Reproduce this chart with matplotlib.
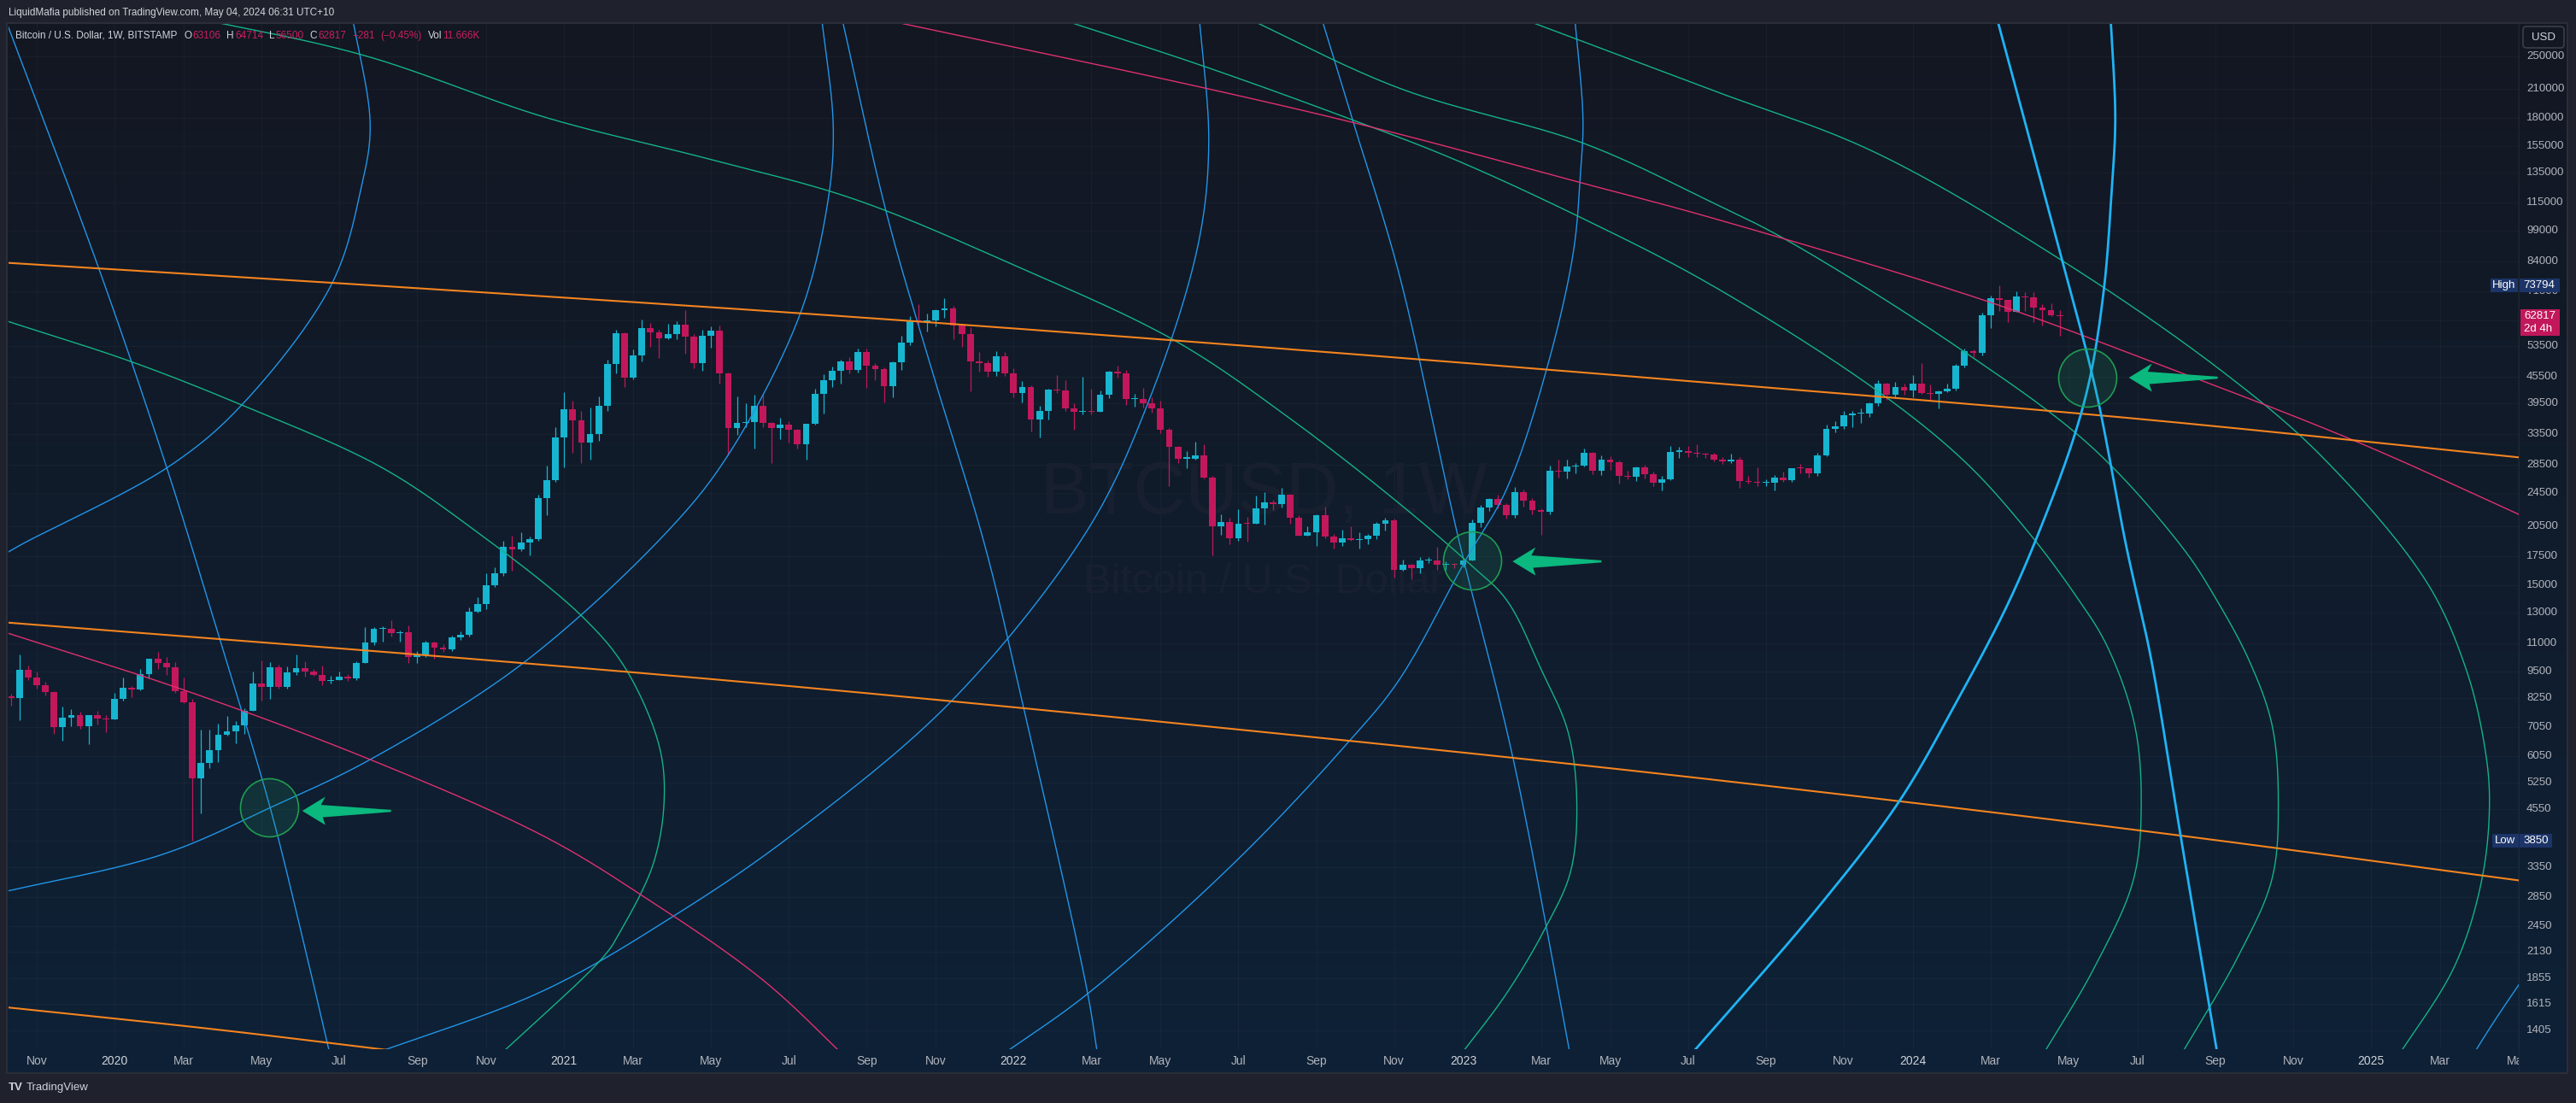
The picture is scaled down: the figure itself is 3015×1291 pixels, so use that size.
import numpy as np
import pandas as pd
import matplotlib
matplotlib.use('Agg')
from matplotlib import pyplot as plt
from matplotlib import dates as mdates
from matplotlib import transforms as mtransforms
from matplotlib.patches import Rectangle, Polygon, FancyBboxPatch
from matplotlib.ticker import NullLocator

plt.rcParams['font.family'] = ['Liberation Sans', 'DejaVu Sans']

# ---------------- weekly candles, BITSTAMP BTCUSD (open = previous close) ----------------
first_open = 8290
week_starts = ['2019-10-14', '2020-01-06', '2021-01-04', '2022-01-03', '2023-01-02', '2024-01-01']

close_2019 = [8220, 9550, 9200, 8800, 8500, 7050, 7420, 7520, 7080, 7510, 7380, 7350]
high_2019 = [8420, 10370, 9800, 9500, 8980, 8520, 7860, 7750, 7650, 7520, 7700, 7530]
low_2019 = [7900, 7300, 9050, 8650, 8350, 6790, 6550, 7080, 7000, 6430, 7150, 6850]

close_2020 = [8180, 8700, 8600, 9330, 10150, 9900, 9700, 8550, 8050, 5360,
              5830, 6250, 6780, 6900, 7120, 7700, 8900, 8720, 9680, 8720,
              9450, 9660, 9470, 9300, 9000, 9070, 9230, 9150, 9930, 11050,
              11900, 11900, 11650, 11680, 10250, 10320, 11080, 10770, 10670, 11380,
              11500, 13030, 13560, 15000, 15960, 18400, 18180, 18800, 19170, 23850,
              26270, 33000]
high_2020 = [8450, 9190, 8780, 9600, 10160, 10500, 10250, 9970, 9180, 8180,
             6950, 6950, 7200, 7470, 7290, 7800, 9480, 10070, 9950, 9850,
             9740, 10380, 9990, 9600, 9790, 9250, 9470, 9350, 9990, 12000,
             12000, 12080, 12470, 11800, 12090, 10580, 11180, 11100, 10960, 11480,
             11740, 13350, 14100, 15970, 16480, 19000, 19500, 19920, 19400, 24300,
             28400, 34800]
low_2020 = [7350, 8120, 8260, 8570, 9150, 9600, 9300, 8450, 8000, 3850,
            4450, 5670, 5860, 6750, 6470, 6800, 7680, 8110, 8200, 8650,
            8640, 9300, 9220, 9260, 8830, 8900, 9050, 9000, 9050, 9920,
            10920, 11120, 11430, 11100, 9900, 9900, 10250, 10150, 10500, 10580,
            11200, 11400, 12950, 13200, 14850, 15800, 16200, 18000, 17600, 19000,
            21800, 26000]

close_2021 = [38200, 36000, 32100, 33500, 38900, 48600, 57400, 45200, 51000, 59000,
              57500, 55800, 57000, 60000, 56200, 49000, 56600, 58200, 46400, 34700,
              35600, 35800, 39000, 35500, 34700, 35300, 34250, 31800, 35400, 41500,
              44600, 47000, 49300, 47100, 51800, 48200, 47300, 43200, 49200, 54600,
              61500, 60900, 61300, 64900, 65500, 59700, 57200, 49400, 48900, 46700,
              50800, 46400]
high_2021 = [41950, 40100, 37850, 38600, 40900, 49700, 58350, 57500, 52600, 61800,
             60600, 58500, 60200, 61200, 64900, 57000, 58450, 59500, 59600, 46600,
             40900, 39500, 41300, 41300, 35700, 36600, 35900, 34500, 35400, 42600,
             46000, 48100, 49900, 50500, 52900, 52900, 48900, 47900, 49300, 56500,
             62900, 67000, 63700, 65000, 69000, 66400, 59800, 59100, 51900, 49500,
             52100, 52000]
low_2021 = [28100, 30400, 28800, 29300, 32300, 37900, 46300, 43000, 44950, 49300,
            53300, 50300, 55500, 55500, 51300, 47500, 47000, 53000, 43800, 30000,
            33400, 34800, 31000, 34800, 28800, 32700, 32100, 31000, 29300, 35200,
            37400, 43000, 43900, 46300, 46500, 42800, 44700, 39600, 40700, 47100,
            53900, 59600, 57800, 59400, 62300, 55600, 53300, 42000, 46800, 45500,
            45600, 45700]

close_2022 = [41800, 43100, 36300, 37900, 42400, 42200, 38400, 37700, 38000, 37800,
              41300, 46800, 46400, 40400, 40400, 39500, 38500, 34300, 31300, 29450,
              29450, 29900, 26600, 20550, 21000, 19300, 20850, 20800, 22600, 23300,
              23150, 24300, 21500, 19550, 19850, 21800, 19400, 18800, 19300, 19050,
              19200, 19550, 20800, 21150, 16300, 16700, 16450, 17100, 17100, 16750,
              16840, 16700]
high_2022 = [47500, 44500, 43500, 38900, 42600, 45800, 44700, 39500, 45400, 42600,
             42300, 46900, 48200, 47200, 41600, 42900, 40800, 40000, 34700, 31400,
             30600, 32200, 31700, 26900, 21900, 21500, 22500, 21600, 24200, 24600,
             23600, 25200, 24400, 21800, 20500, 21850, 22800, 19700, 20200, 20500,
             19900, 19700, 21000, 21500, 21400, 17200, 16800, 17400, 17400, 18400,
             17000, 16900]
low_2022 = [40700, 39700, 34000, 32900, 36300, 41700, 38000, 34300, 37200, 37200,
            38100, 40500, 45200, 39200, 38700, 38600, 37600, 33700, 25400, 28700,
            28000, 29300, 26500, 17600, 19600, 18700, 19000, 18900, 20800, 20700,
            22400, 22700, 20800, 19500, 19500, 18500, 19300, 18200, 18500, 19000,
            18200, 18700, 19200, 20100, 15600, 16200, 15500, 16000, 16900, 16300,
            16300, 16400]

close_2023 = [17150, 20880, 22700, 23750, 22950, 21800, 24650, 23550, 22400, 22150,
              27600, 27500, 28200, 28350, 30300, 27600, 29250, 28850, 26800, 26750,
              28100, 27100, 25900, 26350, 30550, 30600, 30300, 30250, 30050, 29300,
              29050, 29300, 26100, 26000, 25850, 25850, 26550, 26250, 27950, 27900,
              27150, 29950, 34500, 35000, 37050, 37350, 37450, 39450, 43800, 41300,
              43000, 42250]
high_2023 = [17200, 21300, 23000, 23800, 24250, 23200, 25250, 25000, 23900, 22600,
             28400, 29200, 29200, 28800, 31000, 30500, 30000, 29800, 29100, 27600,
             28200, 28450, 27400, 26800, 31400, 31300, 31500, 31800, 30350, 30300,
             29700, 30200, 29600, 26800, 28100, 26400, 27000, 27450, 28000, 28600,
             28000, 30400, 35200, 35900, 38000, 37900, 38400, 39600, 44700, 44000,
             44300, 43800]
low_2023 = [16500, 17100, 20400, 22300, 22600, 21400, 21500, 22800, 21900, 19600,
            21900, 26600, 26500, 27200, 28200, 27100, 26950, 27700, 25800, 26300,
            26100, 26500, 25400, 24800, 26200, 29500, 29700, 29700, 29500, 29000,
            28600, 28800, 25200, 25800, 25400, 25400, 24900, 26000, 26000, 27200,
            26600, 26900, 29800, 33900, 34500, 34800, 35600, 36700, 39000, 40200,
            40500, 41300]

close_2024 = [43900, 41700, 41550, 42050, 42600, 48300, 52150, 51700, 63100, 68950,
              68400, 64300, 69600, 69300, 65600, 64950, 63106, 62817]
high_2024 = [45900, 49000, 43600, 42200, 43900, 48600, 52800, 52600, 64000, 70100,
             73794, 68500, 71700, 71200, 71300, 66800, 67200, 64714]
low_2024 = [40800, 41500, 40300, 38500, 41900, 42300, 47700, 50500, 50900, 59000,
            64600, 60800, 64200, 64500, 60700, 59600, 62700, 56500]

closes = [close_2019, close_2020, close_2021, close_2022, close_2023, close_2024]
highs = [high_2019, high_2020, high_2021, high_2022, high_2023, high_2024]
lows = [low_2019, low_2020, low_2021, low_2022, low_2023, low_2024]

# ---------------- drawings (date, price) ----------------
arc_b1 = [('2019-10-09', 308200), ('2019-12-24', 81350), ('2020-02-17', 28210), ('2020-03-31', 11315),
          ('2020-05-11', 4600), ('2020-06-05', 2380), ('2020-07-01', 1150)]
arc_b2 = [('2020-07-16', 315300), ('2020-07-31', 173800), ('2020-07-24', 125300), ('2020-06-30', 74640),
          ('2020-04-18', 39140), ('2020-02-19', 28210), ('2019-10-23', 18660), ('2019-10-05', 17430)]
arc_b3 = [('2019-10-05', 2920), ('2020-02-14', 3584), ('2020-05-13', 4622), ('2020-07-31', 5935),
          ('2020-12-01', 9873), ('2021-03-30', 20160), ('2021-05-18', 30350), ('2021-07-14', 63360),
          ('2021-08-05', 112800), ('2021-08-10', 170700), ('2021-07-31', 315300)]
arc_b4 = [('2020-07-21', 1203), ('2020-12-19', 1739), ('2021-04-04', 2595), ('2021-07-06', 3943),
          ('2021-11-14', 8120), ('2022-03-04', 20160), ('2022-04-22', 39680), ('2022-06-01', 90750),
          ('2022-06-10', 155800), ('2022-06-02', 315300)]
arc_b5 = [('2021-08-16', 315300), ('2021-09-22', 108800), ('2021-10-25', 51180), ('2021-12-11', 18400),
          ('2022-01-11', 7830), ('2022-03-04', 1708), ('2022-03-13', 1177)]
arc_b6 = [('2022-09-08', 315300), ('2022-10-05', 176200), ('2022-11-11', 78800), ('2022-12-29', 19350),
          ('2023-02-11', 6044), ('2023-03-31', 1177)]
arc_b7 = [('2023-04-02', 315300), ('2023-04-09', 179400), ('2023-04-07', 134750), ('2023-04-01', 87500),
          ('2023-03-10', 46720), ('2023-02-06', 24960), ('2023-01-05', 17350), ('2022-11-11', 9055),
          ('2022-10-02', 6557), ('2022-07-02', 3455), ('2022-03-04', 1708), ('2021-12-19', 1203)]
arc_b8 = [('2024-03-08', 315300), ('2024-05-01', 84360), ('2024-05-28', 42670), ('2024-06-22', 18400),
          ('2024-07-12', 10146), ('2024-08-05', 3943), ('2024-09-05', 1177)]
arc_b9 = [('2023-06-29', 1177), ('2023-10-17', 2716), ('2023-12-21', 4750), ('2024-02-06', 8120),
          ('2024-03-17', 13390), ('2024-04-13', 20160), ('2024-05-10', 32630), ('2024-05-24', 45880),
          ('2024-06-04', 73290), ('2024-06-10', 121370), ('2024-06-13', 179400), ('2024-06-09', 315300)]
arc_b10 = [('2025-03-23', 1150), ('2025-04-16', 1477), ('2025-05-14', 1940)]

arc_g1 = [('2020-02-20', 315300), ('2020-07-24', 252300), ('2020-12-19', 181100), ('2021-05-01', 144900),
          ('2021-08-27', 117000), ('2022-01-06', 81720), ('2022-05-14', 55040), ('2022-08-15', 36390),
          ('2022-11-11', 23210), ('2023-01-08', 16730), ('2023-02-06', 13890), ('2023-03-06', 9608),
          ('2023-03-28', 6863), ('2023-04-04', 4750), ('2023-03-30', 3272), ('2023-03-10', 2435),
          ('2023-02-06', 1708), ('2022-12-28', 1203)]
arc_g2 = [('2019-10-05', 61930), ('2020-01-19', 49350), ('2020-04-18', 39140), ('2020-08-08', 28210),
          ('2020-10-23', 20160), ('2021-01-19', 12680), ('2021-02-23', 9608), ('2021-03-22', 6381),
          ('2021-03-26', 4750), ('2021-03-17', 3393), ('2021-02-19', 2391), ('2021-02-06', 2096),
          ('2020-11-09', 1203)]
arc_g3 = [('2022-01-25', 315300), ('2022-06-05', 237800), ('2022-10-02', 179400), ('2022-12-25', 144900),
          ('2023-04-05', 106860), ('2023-07-20', 74640), ('2023-12-01', 42670), ('2024-02-12', 28990),
          ('2024-04-02', 20160), ('2024-05-10', 14470), ('2024-06-06', 10910), ('2024-06-28', 7283),
          ('2024-07-04', 4926), ('2024-06-28', 3155), ('2024-05-28', 1985), ('2024-04-11', 1177)]
arc_g4 = [('2022-07-02', 315300), ('2022-11-11', 211300), ('2023-04-10', 157300), ('2023-07-20', 115950),
          ('2023-09-21', 94090), ('2024-02-11', 52120), ('2024-05-24', 31470), ('2024-08-06', 18400),
          ('2024-09-03', 13890), ('2024-09-30', 9963), ('2024-10-18', 7117), ('2024-10-23', 4750),
          ('2024-10-18', 3155), ('2024-09-21', 2096), ('2024-08-01', 1177)]
arc_g5 = [('2023-02-06', 315300), ('2023-07-20', 210300), ('2023-12-01', 150300), ('2024-05-01', 84360),
          ('2024-09-08', 46720), ('2024-11-27', 29800), ('2025-02-20', 15280),
          ('2025-03-24', 9608), ('2025-04-08', 6381), ('2025-04-12', 4750), ('2025-04-06', 3155),
          ('2025-03-15', 1985), ('2025-01-24', 1177)]

arc_p1 = [('2019-10-05', 11790), ('2020-03-03', 8577), ('2020-07-31', 5935), ('2020-12-19', 3943),
          ('2021-03-09', 2869), ('2021-06-14', 1837), ('2021-08-29', 1150)]
arc_p2 = [('2021-08-25', 315300), ('2022-06-10', 210300), ('2022-10-29', 169100), ('2023-04-05', 128200),
          ('2023-07-20', 106370), ('2024-02-29', 68150), ('2024-07-12', 49350), ('2024-12-24', 32330),
          ('2025-05-24', 20710)]

line_o1 = [('2019-10-05', 83600), ('2020-09-15', 72620), ('2021-08-27', 62500), ('2022-08-08', 52830),
           ('2023-07-20', 44050), ('2024-06-30', 36390), ('2025-05-24', 29260)]
line_o2 = [('2019-10-05', 12340), ('2020-12-01', 9918), ('2021-08-27', 8500), ('2022-10-02', 6557),
           ('2023-07-20', 5346), ('2024-07-03', 4070), ('2025-05-24', 3071)]
line_o3 = [('2019-10-05', 1595), ('2020-03-29', 1411), ('2020-09-01', 1248)]

ring_dates = ['2020-05-10', '2023-01-09', '2024-05-21']
ring_prices = [4600, 17110, 45260]
arrow_dates = ['2020-06-06', '2023-02-11', '2024-06-24']
arrow_prices = [4517, 17030, 45260]

# ---------------- axis labels ----------------
price_ticks = [250000, 210000, 180000, 155000, 135000, 115000, 99000, 84000, 71500, 61500,
               53500, 45500, 39500, 33500, 28500, 24500, 20500, 17500, 15000, 13000,
               11000, 9500, 8250, 7050, 6050, 5250, 4550, 3850, 3350, 2850,
               2450, 2130, 1855, 1615, 1405]
time_months = ['2019-11', '2020-01', '2020-03', '2020-05', '2020-07', '2020-09', '2020-11',
               '2021-01', '2021-03', '2021-05', '2021-07', '2021-09', '2021-11',
               '2022-01', '2022-03', '2022-05', '2022-07', '2022-09', '2022-11',
               '2023-01', '2023-03', '2023-05', '2023-07', '2023-09', '2023-11',
               '2024-01', '2024-03', '2024-05', '2024-07', '2024-09', '2024-11',
               '2025-01', '2025-03', '2025-05']
time_labels = ['Nov', '2020', 'Mar', 'May', 'Jul', 'Sep', 'Nov',
               '2021', 'Mar', 'May', 'Jul', 'Sep', 'Nov',
               '2022', 'Mar', 'May', 'Jul', 'Sep', 'Nov',
               '2023', 'Mar', 'May', 'Jul', 'Sep', 'Nov',
               '2024', 'Mar', 'May', 'Jul', 'Sep', 'Nov',
               '2025', 'Mar', 'May']

# ---------------- build candles ----------------
dates, o, h, l, c = [], [], [], [], []
prev = first_open
for start, cl, hi, lo in zip(week_starts, closes, highs, lows):
    d = pd.date_range(start, periods=len(cl), freq='7D')
    for k in range(len(cl)):
        dates.append(d[k])
        o.append(prev)
        c.append(cl[k])
        h.append(max(hi[k], prev, cl[k]))
        l.append(min(lo[k], prev, cl[k]))
        prev = cl[k]
xd = mdates.date2num(dates)
o = np.array(o, float); c = np.array(c, float); h = np.array(h, float); l = np.array(l, float)

UP = '#17b5cf'
DOWN = '#c2185b'
cols = [UP if cc >= oo else DOWN for oo, cc in zip(o, c)]

W, H = 3015, 1291
fig = plt.figure(figsize=(W / 100, H / 100), dpi=100)
fig.patch.set_facecolor('#1f222c')
renderer = fig.canvas.get_renderer()


def fr(x0, y0, x1, y1):
    return [x0 / W, 1 - y1 / H, (x1 - x0) / W, (y1 - y0) / H]


# gradient pane
bg = fig.add_axes(fr(8, 27, 3005, 1256))
bg.axis('off')
top = np.array([19, 23, 34]) / 255
bot = np.array([14, 33, 54]) / 255
g = np.linspace(0, 1, 256)[:, None, None]
bg.imshow(top + (bot - top) * g, aspect='auto', extent=[0, 1, 0, 1], origin='upper')
bg.set_xlim(0, 1); bg.set_ylim(0, 1)

ax = fig.add_axes(fr(10, 27, 2948, 1228))
ax.patch.set_alpha(0)
for s in ax.spines.values():
    s.set_visible(False)
ax.set_yscale('log')
t0 = mdates.date2num(pd.Timestamp('2020-01-06'))
ax.set_xlim(t0 - 85.8, t0 + 1946.7)
ax.set_ylim(1271.4, 298540)
ax.xaxis.set_major_locator(NullLocator())
ax.yaxis.set_major_locator(NullLocator())
ax.yaxis.set_minor_locator(NullLocator())
ax.tick_params(length=0)

# grid
tick_dates = []
for m in time_months:
    d = pd.Timestamp(m + '-01')
    d = d + pd.Timedelta(days=(7 - d.weekday()) % 7)
    tick_dates.append(mdates.date2num(d))
for td in tick_dates:
    ax.axvline(td, color=(1, 1, 1, 0.03), lw=0.8, zorder=1)
for p in price_ticks:
    ax.axhline(p, color=(1, 1, 1, 0.03), lw=0.8, zorder=1)

# watermark
ax.text(0.5, 0.54, 'BTCUSD, 1W', transform=ax.transAxes, ha='center', va='center',
        fontsize=61, color='#182030', zorder=1)
ax.text(0.5, 0.455, 'Bitcoin / U.S. Dollar', transform=ax.transAxes, ha='center', va='center',
        fontsize=35, color='#182030', zorder=1)

# candles
ax.vlines(xd, l, h, colors=cols, lw=0.9, zorder=3)
bottom = np.minimum(o, c)
height = np.maximum(np.abs(c - o), bottom * 0.005)
ax.bar(xd, height, bottom=bottom, width=5.4, color=cols, lw=0, zorder=3)


# drawings: smooth curve through the read points (centripetal Catmull-Rom in screen space)
def catmull(P, n=50):
    P = np.asarray(P, float)
    P = np.vstack([2 * P[0] - P[1], P, 2 * P[-1] - P[-2]])
    out = []
    for i in range(len(P) - 3):
        p0, p1, p2, p3 = P[i], P[i + 1], P[i + 2], P[i + 3]
        t1 = np.hypot(*(p1 - p0)) ** 0.5 + 1e-6
        t2 = t1 + np.hypot(*(p2 - p1)) ** 0.5 + 1e-6
        t3 = t2 + np.hypot(*(p3 - p2)) ** 0.5 + 1e-6
        t = np.linspace(t1, t2, n)[:, None]
        a1 = (t1 - t) / t1 * p0 + t / t1 * p1
        a2 = (t2 - t) / (t2 - t1) * p1 + (t - t1) / (t2 - t1) * p2
        a3 = (t3 - t) / (t3 - t2) * p2 + (t - t2) / (t3 - t2) * p3
        b1 = (t2 - t) / t2 * a1 + t / t2 * a2
        b2 = (t3 - t) / (t3 - t1) * a2 + (t - t1) / (t3 - t1) * a3
        out.append((t2 - t) / (t2 - t1) * b1 + (t - t1) / (t2 - t1) * b2)
    return np.vstack(out)


def draw_curve(pts, color, lw, z=5):
    xs = mdates.date2num(pd.to_datetime([d for d, _ in pts]))
    ys = np.array([p for _, p in pts], float)
    disp = ax.transData.transform(np.column_stack([xs, ys]))
    sm = ax.transData.inverted().transform(catmull(disp))
    ax.plot(sm[:, 0], sm[:, 1], color=color, lw=lw, zorder=z, solid_capstyle='round')


BLUE = '#2196e8'
BLUE2 = '#1fb4f5'
TEAL = '#14b386'
PINK = '#e0306e'
ORANGE = '#f5841f'
for arc in [arc_b1, arc_b2, arc_b3, arc_b4, arc_b5, arc_b6, arc_b7, arc_b10]:
    draw_curve(arc, BLUE, 1.0)
for arc in [arc_b8, arc_b9]:
    draw_curve(arc, BLUE2, 2.0, z=6)
for arc in [arc_g1, arc_g2, arc_g3, arc_g4, arc_g5]:
    draw_curve(arc, TEAL, 1.0)
for arc in [arc_p1, arc_p2]:
    draw_curve(arc, PINK, 1.0)
for arc in [line_o1, line_o2, line_o3]:
    draw_curve(arc, ORANGE, 1.5)

# marker circles
ax.scatter(mdates.date2num(pd.to_datetime(ring_dates)), ring_prices, s=(68 * 0.72) ** 2,
           facecolors=(0.12, 0.62, 0.42, 0.16), edgecolors='#1f9c53', linewidths=1.2, zorder=7)

# arrows (shape in screen pixels, relative to tip)
arrow_shape = np.array([(0, 0), (27, 16.5), (22, 7), (104, 1.2), (104, -1.2), (24, -7.5), (27, -16.5)])
for ad, ap in zip(arrow_dates, arrow_prices):
    tip = ax.transData.transform((mdates.date2num(pd.Timestamp(ad)), ap))
    ax.add_patch(Polygon(tip + arrow_shape, closed=True, transform=mtransforms.IdentityTransform(),
                         facecolor='#0bb87e', edgecolor='none', zorder=8))

# price scale labels
btrans = mtransforms.blended_transform_factory(ax.transAxes, ax.transData)
for p in price_ticks:
    ax.text(1.0031, p, str(p), transform=btrans, ha='left', va='center', fontsize=9.5,
            color='#b2b5be', clip_on=False, zorder=2)


def img_y(price):
    return H - ax.transData.transform((ax.get_xlim()[0], price))[1]


def px_box(x0, y0, x1, y1, fc, z=20):
    fig.add_artist(Rectangle((x0, H - y1), x1 - x0, y1 - y0, transform=mtransforms.IdentityTransform(),
                             facecolor=fc, edgecolor='none', zorder=z))


def px_text(x, y, s, size=9.5, **kw):
    return fig.text(x / W, 1 - y / H, s, fontsize=size, **kw)


NAVY = '#1c3468'
yh = img_y(73794)
px_box(2915, yh - 8, 2947, yh + 8, NAVY)
px_box(2949, yh - 8, 2996, yh + 8, NAVY)
px_text(2931, yh, 'High', ha='center', va='center', color='white', zorder=21)
px_text(2953, yh, '73794', ha='left', va='center', color='white', zorder=21)
yl = img_y(3850)
px_box(2917, yl - 8, 2948, yl + 8, NAVY)
px_box(2949, yl - 8, 2987, yl + 8, NAVY)
px_text(2932, yl, 'Low', ha='center', va='center', color='white', zorder=21)
px_text(2953, yl, '3850', ha='left', va='center', color='white', zorder=21)
yc = img_y(62817)
px_box(2950, yc - 8, 2996, yc + 23, '#c2185b')
px_text(2954, yc, '62817', ha='left', va='center', color='white', zorder=21)
px_text(2954, yc + 15, '2d 4h', ha='left', va='center', color='white', zorder=21)

# USD box
fig.add_artist(FancyBboxPatch((2953, H - 56), 48, 25, boxstyle='round,pad=0,rounding_size=4',
                              transform=mtransforms.IdentityTransform(), facecolor='none',
                              edgecolor='#3a3e4a', lw=1.2, zorder=20))
px_text(2977, 44, 'USD', ha='center', va='center', color='#d1d4dc', zorder=21)

# time axis strip
tax = fig.add_axes(fr(10, 1228, 2948, 1256))
tax.axis('off')
tax.set_xlim(ax.get_xlim())
tax.set_ylim(0, 1)
for td, lab in zip(tick_dates, time_labels):
    tax.text(td, 0.5, lab, ha='center', va='center', fontsize=10,
             color='#d1d4dc' if lab.isdigit() else '#b2b5be', clip_on=True)

# separators / pane frame
fig.add_artist(Rectangle((8, H - 1256), 2997, 1229, transform=mtransforms.IdentityTransform(),
                         facecolor='none', edgecolor='#2a2e39', lw=1.5, zorder=19))
fig.add_artist(Rectangle((2948, H - 1256), 0.8, 1229, transform=mtransforms.IdentityTransform(),
                         facecolor=(1, 1, 1, 0.05), edgecolor='none', zorder=2))


# header lines, laid out left to right
def run_of_text(pieces, x0, y, size):
    x = x0
    for s, gap, col in pieces:
        x += gap
        t = px_text(x, y, s, size, ha='left', va='center', color=col, zorder=21)
        x += t.get_window_extent(renderer=renderer).width


LIGHT = '#d1d4dc'
VAL = '#cc1f5f'
run_of_text([('LiquidMafia published on TradingView.com, May 04, 2024 06:31 UTC+10', 0, LIGHT)],
            10, 15, 8.5)
header = [('Bitcoin / U.S. Dollar, 1W, BITSTAMP', 0, LIGHT), ('O', 8, LIGHT), ('63106', 1, VAL),
          ('H', 7, LIGHT), ('64714', 1, VAL), ('L', 7, LIGHT), ('56500', 1, VAL),
          ('C', 7, LIGHT), ('62817', 1, VAL), ('\u2212281', 7, VAL), ('(\u22120.45%)', 7, VAL),
          ('Vol', 7, LIGHT), ('11.666K', 1, VAL)]
run_of_text(header, 18, 42, 8.5)

# footer logo
px_text(10, 1273, 'TV', ha='left', va='center', color='#d1d4dc', weight='bold')
px_text(31, 1273, 'TradingView', ha='left', va='center', color='#d1d4dc')

fig.savefig('out.png', dpi=100, facecolor=fig.get_facecolor())
